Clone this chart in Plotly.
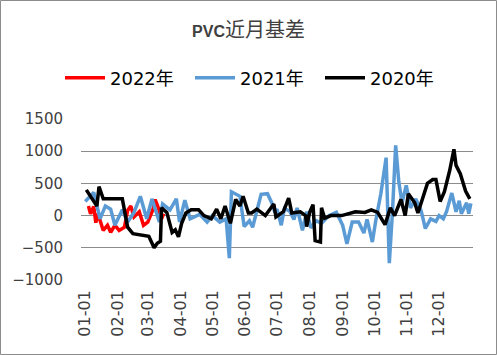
import plotly.graph_objects as go
import pandas as pd

# 2022 (red)
dates_2022 = ["01-04","01-06","01-09","01-11","01-13","01-18","01-22","01-25","01-29",
              "02-02","02-07","02-10","02-13","02-16","02-21","02-25","03-01","03-06",
              "03-08","03-11","03-14","03-16"]
vals_2022 = [150,30,140,-110,30,-230,-150,-260,-150,-230,-180,80,150,-20,60,-150,-100,100,
             250,120,-50,30]

# 2021 (blue)
dates_2021 = ["01-01","01-09","01-15","01-20","01-25","01-29","02-05","02-10","02-16","02-22",
              "02-28","03-05","03-12","03-15","03-22","03-28","03-31","04-05","04-10","04-19",
              "04-26","05-01","05-08","05-14","05-17","05-19","05-27","05-31","06-05","06-08",
              "06-16","06-22","06-26","06-29","07-01","07-05","07-08","07-13","07-17","07-20",
              "07-25","07-29","08-02","08-07","08-12","08-19","08-26","09-01","09-05","09-10",
              "09-16","09-21","09-24","09-29","10-02","10-07","10-12","10-15","10-18","10-21",
              "10-24","10-27","10-31","11-04","11-09","11-14","11-18","11-23","11-28","12-01",
              "12-05","12-08","12-13","12-17","12-20","12-22","12-27","12-29","12-31"]
vals_2021 = [220,360,-50,150,100,-150,90,-100,50,300,
             -50,260,-100,180,90,260,-100,240,-50,20,
             -100,0,-100,-50,-660,370,300,-170,-80,-180,
             330,340,200,50,100,-150,110,70,-60,120,
             -230,60,-190,-80,-120,0,50,-150,-440,-100,
             -100,-270,-60,-410,-100,340,900,-740,60,1090,
             520,200,470,120,260,80,-200,-50,-90,0,
             -50,60,350,60,230,30,200,30,190]

# 2020 (black)
dates_2020 = ["01-02","01-06","01-12","01-14","01-18","02-05","02-10","02-15","02-22","03-02",
              "03-07","03-10","03-13","03-14","03-19","03-24","03-27","03-30","04-02","04-06",
              "04-11","04-18","04-23","04-30","05-05","05-09","05-13","05-18","05-23","05-27",
              "05-30","06-04","06-07","06-12","06-20","06-28","06-30","07-07","07-12","07-15",
              "07-23","07-28","07-29","08-01","08-04","08-06","08-11","08-12","08-15","08-21",
              "08-31","09-13","09-22","09-28","10-04","10-11","10-16","10-20","10-26","10-30",
              "11-02","11-08","11-11","11-16","11-20","11-25","11-28","12-02","12-06","12-11",
              "12-15","12-17","12-21","12-26","12-30"]
vals_2020 = [400,300,150,450,260,260,-180,-280,-300,-320,
             -500,-430,-400,120,50,-260,-220,-330,-120,40,
             90,90,0,-50,100,-50,150,-120,250,150,
             300,40,40,100,0,180,-20,60,270,40,
             60,0,-170,60,170,-390,-410,120,-40,0,
             0,60,50,90,50,-140,120,0,250,0,
             340,200,40,300,500,560,560,220,370,700,
             1030,780,650,380,260]

month_ticks = ["01-01","02-01","03-01","04-01","05-01","06-01",
               "07-01","08-01","09-01","10-01","11-01","12-01"]

def to_dt(ds):
    return pd.to_datetime(["2021-" + d for d in ds])

series = [("2022年", dates_2022, vals_2022, "#FF0000"),
          ("2021年", dates_2021, vals_2021, "#5B9BD5"),
          ("2020年", dates_2020, vals_2020, "#000000")]

fig = go.Figure()
for name, d, v, c in series:
    fig.add_trace(go.Scatter(x=to_dt(d), y=v, mode="lines", name=name,
                             line=dict(color=c, width=3.5)))

W, H = 497, 355
ml, mr, mt, mb = 81, 24, 119, 75
pw, ph = W - ml - mr, H - mt - mb

fig.update_layout(
    width=W, height=H,
    margin=dict(l=ml, r=mr, t=mt, b=mb, autoexpand=False),
    paper_bgcolor="white", plot_bgcolor="white",
    font=dict(family="DejaVu Sans, Noto Sans CJK SC, sans-serif", color="#404040"),
    title=dict(text="<b>PVC</b><span style='font-size:20px'>近月基差</span>",
               x=0.5, xanchor="center", y=1 - 31 / H, yanchor="middle",
               font=dict(size=16, color="#404040",
                         family="Liberation Sans, Noto Sans CJK SC, sans-serif")),
    legend=dict(orientation="h", x=(60 - ml) / pw, xanchor="left",
                y=1 + (mt - 78) / ph, yanchor="middle",
                font=dict(size=18, color="#000000"), itemwidth=40, entrywidth=75,
                bgcolor="rgba(0,0,0,0)"),
    xaxis=dict(type="date", range=["2020-12-28", "2022-01-02"], tickformat="%m-%d",
               tickvals=to_dt(month_ticks), tickangle=-90, showgrid=False, zeroline=False,
               showline=False, ticks="", automargin=False,
               tickfont=dict(size=16, color="#404040"), ticklabelstandoff=6),
    yaxis=dict(range=[-1000, 1500], dtick=500, tick0=0, showgrid=True, gridcolor="#8c8c8c",
               gridwidth=1, zeroline=False, showline=False, ticks="", automargin=False,
               tickfont=dict(size=15, color="#404040"), ticklabelstandoff=17),
    shapes=[dict(type="rect", xref="paper", yref="paper",
                 x0=-(ml - 0.5) / pw, x1=1 + (mr - 0.5) / pw,
                 y0=-(mb - 0.5) / ph, y1=1 + (mt - 0.5) / ph,
                 line=dict(color="#8c8c8c", width=1), fillcolor="rgba(0,0,0,0)")],
)
fig.write_html("out.html", config={"displayModeBar": False},
               post_script="document.body.style.margin='0';document.body.style.padding='0';")
